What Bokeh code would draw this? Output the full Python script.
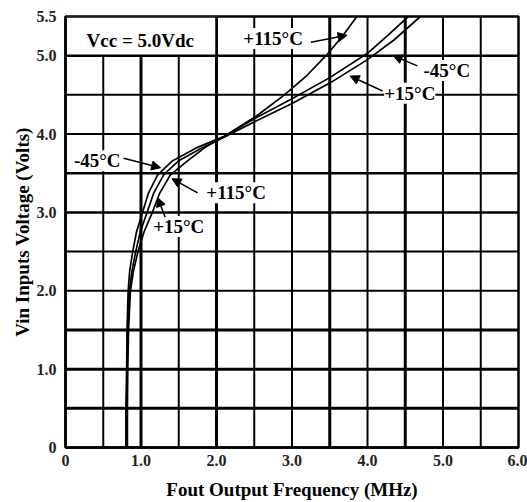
from bokeh.plotting import figure
from bokeh.models import Label, Arrow, NormalHead, Span, FixedTicker, Range1d
from bokeh.embed import file_html
from bokeh.resources import INLINE

# ---- data ----
vin_m45 = [0, 0.5, 1.0, 1.5, 2.0, 2.25, 2.5, 2.75, 3.0, 3.25, 3.48, 3.66, 3.83, 3.97, 4.21, 4.45, 4.72, 5.03, 5.27, 5.5]
freq_m45 = [0.80, 0.80, 0.81, 0.815, 0.83, 0.85, 0.89, 0.94, 1.02, 1.10, 1.22, 1.42, 1.75, 2.1, 2.53, 3.0, 3.5, 4.0, 4.28, 4.54]

vin_p15 = [0, 0.5, 1.0, 1.5, 2.0, 2.25, 2.5, 2.75, 3.0, 3.25, 3.48, 3.66, 3.82, 3.96, 4.17, 4.39, 4.65, 4.95, 5.2, 5.5]
freq_p15 = [0.81, 0.81, 0.815, 0.825, 0.845, 0.88, 0.93, 0.99, 1.08, 1.17, 1.30, 1.50, 1.80, 2.1, 2.53, 3.0, 3.5, 4.0, 4.35, 4.70]

vin_p115 = [0, 0.5, 1.0, 1.5, 2.0, 2.25, 2.5, 2.75, 3.0, 3.25, 3.48, 3.66, 3.83, 3.97, 4.23, 4.5, 4.75, 5.0, 5.25, 5.5]
freq_p115 = [0.82, 0.82, 0.825, 0.835, 0.86, 0.90, 0.96, 1.04, 1.15, 1.25, 1.39, 1.62, 1.85, 2.1, 2.53, 2.9, 3.2, 3.45, 3.67, 3.86]

x_ticks = [0, 1, 2, 3, 4, 5, 6]
x_tick_labels = ["0", "1.0", "2.0", "3.0", "4.0", "5.0", "6.0"]
y_ticks = [0, 1, 2, 3, 4, 5, 5.5]
y_tick_labels = ["0", "1.0", "2.0", "3.0", "4.0", "5.0", "5.5"]
x_grid = [0.5, 1.0, 1.5, 2.0, 2.5, 3.0, 3.5, 4.0, 4.5, 5.0, 5.5]
y_grid = [0.5, 1.0, 1.5, 2.0, 2.5, 3.0, 3.5, 4.0, 4.5, 5.0]

SERIF = "Liberation Serif"
NARROW = "Liberation Sans Narrow"

p = figure(width=527, height=502, output_backend="svg", toolbar_location=None,
           x_range=Range1d(0, 6), y_range=Range1d(0, 5.5),
           min_border_left=65, min_border_right=9, min_border_top=16, min_border_bottom=55)
p.background_fill_color = "white"
p.border_fill_color = "white"
p.outline_line_color = "black"
p.outline_line_width = 2.5
p.xgrid.visible = False
p.ygrid.visible = False

# grid lines (scanned look: some heavier)
xw = {1.0: 3, 2.0: 3, 3.5: 3, 4.5: 3}
yw = {0.5: 3, 1.0: 3, 1.5: 3, 3.0: 2.5, 3.5: 2.5, 5.0: 2.5}
for gx in x_grid:
    p.add_layout(Span(location=gx, dimension="height", line_color="black",
                      line_width=xw.get(gx, 2), level="underlay"))
for gy in y_grid:
    p.add_layout(Span(location=gy, dimension="width", line_color="black",
                      line_width=yw.get(gy, 2), level="underlay"))

# Vcc box
p.quad(left=0, right=2, bottom=5.0, top=5.5, fill_color="white", line_color="black", line_width=2.5)

# curves
for f, v in [(freq_m45, vin_m45), (freq_p15, vin_p15), (freq_p115, vin_p115)]:
    p.line(f, v, line_color="black", line_width=1.7)

# axes
for ax in (p.xaxis[0], p.yaxis[0]):
    ax.axis_line_color = "black"
    ax.axis_line_width = 2.5
    ax.major_tick_line_color = None
    ax.minor_tick_line_color = None
    ax.major_label_text_font = NARROW
    ax.major_label_text_font_size = "16px"
    ax.major_label_text_font_style = "bold"
    ax.major_label_text_color = "#222222"
    ax.axis_label_text_font = SERIF
    ax.axis_label_text_font_style = "bold"
    ax.axis_label_text_font_size = "19px"
    ax.axis_label_text_color = "black"

p.xaxis.ticker = FixedTicker(ticks=x_ticks)
p.xaxis.major_label_overrides = {t: l for t, l in zip(x_ticks, x_tick_labels)}
p.yaxis.ticker = FixedTicker(ticks=y_ticks)
p.yaxis.major_label_overrides = {t: l for t, l in zip(y_ticks, y_tick_labels)}
p.xaxis.major_label_standoff = 1
p.yaxis.major_label_standoff = 3
p.xaxis.axis_label = "Fout Output Frequency (MHz)"
p.yaxis.axis_label = "Vin Inputs Voltage (Volts)"
p.xaxis.axis_label_standoff = 10
p.yaxis.axis_label_standoff = 1

def lab(x, y, text):
    p.add_layout(Label(x=x, y=y, text=text, text_font=SERIF, text_font_style="bold",
                       text_font_size="19px", text_align="center", text_baseline="middle",
                       background_fill_color="white", text_color="black"))

def arr(x0, y0, x1, y1):
    p.add_layout(Arrow(x_start=x0, y_start=y0, x_end=x1, y_end=y1, line_width=1.5,
                       line_color="black",
                       end=NormalHead(size=9, fill_color="black", line_color="black")))

lab(0.99, 5.2, "Vcc = 5.0Vdc")
lab(2.75, 5.22, "+115°C")
arr(3.25, 5.17, 3.73, 5.26)
lab(5.05, 4.81, "-45°C")
arr(4.66, 4.87, 4.34, 5.0)
lab(4.56, 4.52, "+15°C")
arr(4.2, 4.55, 3.77, 4.74)
lab(0.42, 3.66, "-45°C")
arr(0.77, 3.69, 1.26, 3.57)
lab(2.26, 3.25, "+115°C")
arr(1.75, 3.25, 1.41, 3.43)
lab(1.50, 2.82, "+15°C")
arr(1.32, 2.94, 1.22, 3.19)

open("out.html", "w").write(file_html(p, INLINE))
